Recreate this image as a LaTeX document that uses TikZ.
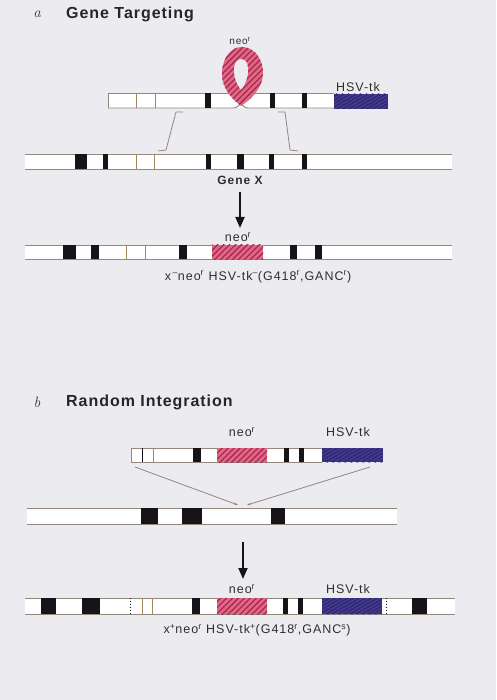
\documentclass[tikz,border=0pt]{standalone}
\usepackage{fontspec}
\newfontfamily\sans[LetterSpace=8]{Liberation Sans}
\newfontfamily\ttl[LetterSpace=6]{Liberation Sans}
\usetikzlibrary{patterns.meta,arrows.meta}
\definecolor{bg}{RGB}{236,236,240}
\definecolor{lgray}{RGB}{145,135,125}
\definecolor{tanc}{RGB}{165,135,95}
\definecolor{pinkf}{RGB}{224,104,134}
\definecolor{pinkh}{RGB}{170,40,80}
\definecolor{navy}{RGB}{52,42,122}
\definecolor{navyh}{RGB}{88,78,158}
\definecolor{barc}{RGB}{22,20,24}
\definecolor{txt}{RGB}{50,45,45}
\newcommand\chrom[4]{\fill[white] (#1,#3) rectangle (#2,#4);
  \draw[cline] (#1,#3) -- (#2,#3); \draw[cline] (#1,#4) -- (#2,#4);}
\newcommand\bbar[4]{\fill[barc] (#1,#3) rectangle (#2,#4);}
\newcommand\tline[3]{\draw[tanc,line width=0.9] (#1,#2) -- (#1,#3);}
\newcommand\pinkbox[4]{\fill[pinkf] (#1,#3) rectangle (#2,#4);
  \fill[pattern={Lines[angle=45,distance=4.2,line width=1.3]},pattern color=pinkh] (#1,#3) rectangle (#2,#4);}
\newcommand\bluebox[4]{\fill[navy] (#1,#3) rectangle (#2,#4);
  \fill[pattern={Lines[angle=30,distance=3,line width=0.5]},pattern color=navyh] (#1,#3) rectangle (#2,#4);}
\newcommand\looppath{(241,106) .. controls (228,96) and (221,84) .. (222,72)
  .. controls (223,56) and (232,47) .. (242,47)
  .. controls (253,47) and (263,57) .. (263,73)
  .. controls (263,86) and (254,97) .. (241,106) -- cycle
  (241,90) .. controls (235,83) and (233,73) .. (234,67)
  .. controls (235,61) and (238,59) .. (241,59)
  .. controls (244,59) and (248,61) .. (248,67)
  .. controls (249,73) and (247,83) .. (241,90) -- cycle}
\tikzset{
  cline/.style={draw=lgray,line width=0.9},
  lbl/.style={text=txt,font=\sans\fontsize{12.5}{14}\selectfont,inner sep=0},
  small/.style={text=txt,font=\sans\fontsize{10}{12}\selectfont,inner sep=0},
  title/.style={text=black!85,font=\ttl\bfseries\fontsize{16}{18}\selectfont,inner sep=0,anchor=west},
  letter/.style={text=black!80,font=\itshape\fontsize{15}{17}\selectfont,inner sep=0},
  bigarrow/.style={draw=barc,line width=1.8,-{Triangle[length=11,width=9]}},
  thinarrow/.style={draw=lgray,line width=0.8}
}
\begin{document}
\begin{tikzpicture}[x=1pt,y=-1pt]
\fill[bg] (0,0) rectangle (496,700);
\useasboundingbox (0,0) rectangle (496,700);

% ---------- a ----------
\node[letter] (la) at (37,14) {a};
\node[title] (ta) at (66,14) {Gene Targeting};

% top vector
\fill[white] (108,93) rectangle (334,108);
\draw[cline] (108,93) -- (229,93);
\draw[cline] (254,93) -- (334,93);
\draw[cline] (108,93) -- (108,108);
\draw[cline] (108,108) -- (231,108) .. controls (236,108) .. (240.5,104);
\draw[cline] (334,108) -- (250,108) .. controls (245,108) .. (241.5,104);
\tline{136}{93}{108}
\tline{155}{93}{108}
\bbar{205}{211}{93}{108}
\bbar{270}{275}{93}{108}
\bbar{302}{307}{93}{108}
\bluebox{334}{388}{94}{109}
% loop
\path[even odd rule,fill=pinkf] \looppath;
\path[even odd rule,pattern={Lines[angle=45,distance=4.2,line width=1.3]},pattern color=pinkh] \looppath;
\node[small] (neoa) at (240,41) {neo\textsuperscript{r}};
\node[lbl] (hsva) at (358,87) {HSV-tk};

% crossover lines
\coordinate (c1) at (183,112); \coordinate (c2) at (176,112);
\coordinate (c3) at (166,150); \coordinate (c4) at (158,151);
\coordinate (d1) at (278,112); \coordinate (d2) at (285,112);
\coordinate (d3) at (290,150); \coordinate (d4) at (298,151);
\draw[thinarrow] (c1) -- (c2) -- (c3) -- (c4);
\draw[thinarrow] (d1) -- (d2) -- (d3) -- (d4);

% gene X chromosome
\chrom{25}{452}{154}{169}
\bbar{75}{87}{154}{169}
\bbar{103}{108}{154}{169}
\tline{136}{154}{169}
\tline{154}{154}{169}
\bbar{206}{211}{154}{169}
\bbar{237}{244}{154}{169}
\bbar{269}{274}{154}{169}
\bbar{302}{307}{154}{169}
\node[lbl,font=\sans\bfseries\fontsize{12}{14}\selectfont] (genex) at (240,180) {Gene X};

\coordinate (a1) at (240,192);
\coordinate (a2) at (240,228);
\draw[bigarrow] (a1) -- (a2);

% result a
\chrom{25}{452}{245}{259}
\bbar{63}{76}{245}{259}
\bbar{91}{99}{245}{259}
\tline{126}{245}{259}
\tline{145}{245}{259}
\bbar{179}{187}{245}{259}
\pinkbox{212}{263}{245}{259}
\bbar{290}{297}{245}{259}
\bbar{315}{322}{245}{259}
\node[lbl] (neoa2) at (238,237) {neo\textsuperscript{r}};
\node[lbl] (gena) at (258,277) {x\textsuperscript{\,\textendash}neo\textsuperscript{r} HSV-tk\textsuperscript{\textendash}(G418\textsuperscript{r},GANC\textsuperscript{r})};

% ---------- b ----------
\node[letter] (lb) at (37,402) {b};
\node[title] (tb) at (66,402) {Random Integration};

\chrom{131}{322}{448}{462}
\draw[cline] (131,448) -- (131,462);
\draw[barc,line width=0.9] (142,448) -- (142,462);
\tline{153}{448}{462}
\bbar{193}{201}{448}{462}
\pinkbox{217}{267}{448}{462}
\bbar{284}{289}{448}{462}
\bbar{299}{304}{448}{462}
\bluebox{322}{383}{448}{462}
\node[lbl] (neob) at (242,432) {neo\textsuperscript{r}};
\node[lbl] (hsvb) at (348,432) {HSV-tk};

\coordinate (p1) at (135,467); \coordinate (p2) at (238,505);
\coordinate (q1) at (370,467); \coordinate (q2) at (247,505);
\draw[thinarrow,-{Stealth[length=4,width=2.5]}] (p1) -- (p2);
\draw[thinarrow,-{Stealth[length=4,width=2.5]}] (q1) -- (q2);

\chrom{27}{397}{508}{524}
\bbar{141}{158}{508}{524}
\bbar{182}{202}{508}{524}
\bbar{271}{285}{508}{524}

\coordinate (b1) at (243,542);
\coordinate (b2) at (243,579);
\draw[bigarrow] (b1) -- (b2);

% result b
\chrom{25}{455}{598}{614}
\bbar{41}{56}{598}{614}
\bbar{82}{100}{598}{614}
\draw[barc,line width=0.9,dotted] (130,598) -- (130,614);
\tline{142}{598}{614}
\tline{152}{598}{614}
\bbar{192}{200}{598}{614}
\pinkbox{217}{267}{598}{614}
\bbar{283}{288}{598}{614}
\bbar{298}{303}{598}{614}
\bluebox{322}{382}{598}{614}
\draw[barc,line width=0.9,dotted] (386,598) -- (386,614);
\bbar{412}{427}{598}{614}
\node[lbl] (neob2) at (242,589) {neo\textsuperscript{r}};
\node[lbl] (hsvb2) at (348,589) {HSV-tk};
\node[lbl] (genb) at (257,630) {x\textsuperscript{+}neo\textsuperscript{r} HSV-tk\textsuperscript{+}(G418\textsuperscript{r},GANC\textsuperscript{s})};
\end{tikzpicture}
\end{document}
